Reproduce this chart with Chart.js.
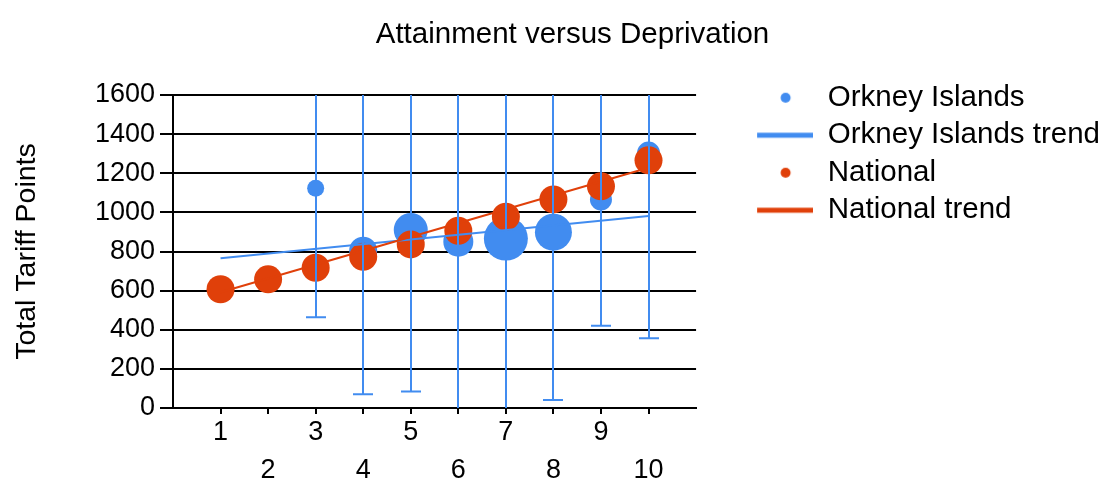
<!DOCTYPE html>
<html>
<head>
<meta charset="utf-8">
<title>Attainment versus Deprivation</title>
<script src="https://cdn.jsdelivr.net/npm/chart.js@4/dist/chart.umd.min.js"></script>
<style>
  html, body { margin: 0; padding: 0; background: #fff; }
  #wrap { width: 1105px; height: 483px; }
</style>
</head>
<body>
<div id="wrap"><canvas id="chart"></canvas></div>
<script>
// Deprivation groups (1 = most deprived, 10 = least deprived)
const groups = [1, 2, 3, 4, 5, 6, 7, 8, 9, 10];
const nationalMean = [607, 658, 717, 773, 836, 906, 978, 1066, 1133, 1266];

const orkneyGroups = [3, 4, 5, 6, 7, 8, 9, 10];
const orkneyMean = [1123, 804, 910, 850, 866, 899, 1066, 1303];
const orkneyLow = [464, 70, 84, -40, -30, 41, 421, 356];
const orkneyHigh = [1782, 1640, 1740, 1740, 1760, 1760, 1711, 2250];
const orkneyBubble = [8.5, 14, 17, 15, 22, 18.5, 11, 11.5];

const trendGroups = [1, 10];
const orkneyTrend = [765, 981];
const nationalTrend = [592, 1228];

const yTicks = [0, 200, 400, 600, 800, 1000, 1200, 1400, 1600];

const BLUE = '#418CF0';
const RED = '#E0400A';
const FONT = "'Liberation Sans', Arial, sans-serif";

// legend markers: a dot for the point series, a bar for the trend lines
function legendMarker(color, kind) {
  const c = document.createElement('canvas');
  c.width = 109; c.height = 12;
  const g = c.getContext('2d');
  g.fillStyle = color;
  if (kind === 'dot') {
    g.beginPath(); g.arc(81.5, 6, 5, 0, Math.PI * 2); g.fill();
  } else {
    g.fillRect(53, 3.5, 56, 5);
  }
  return c;
}
const legendMarkers = [
  legendMarker(BLUE, 'dot'),
  legendMarker(BLUE, 'line'),
  legendMarker(RED, 'dot'),
  legendMarker(RED, 'line')
];

// vertical error bars with caps for the Orkney series
const errorBars = {
  id: 'errorBars',
  afterDatasetsDraw(chart) {
    const {ctx, chartArea, scales: {x, y}} = chart;
    ctx.save();
    ctx.beginPath();
    ctx.rect(chartArea.left, chartArea.top, chartArea.right - chartArea.left, chartArea.bottom - chartArea.top);
    ctx.clip();
    ctx.strokeStyle = BLUE;
    ctx.lineWidth = 2;
    orkneyGroups.forEach((g, i) => {
      const px = Math.round(x.getPixelForValue(g));
      const lo = y.getPixelForValue(orkneyLow[i]);
      const hi = y.getPixelForValue(orkneyHigh[i]);
      ctx.beginPath();
      ctx.moveTo(px, lo); ctx.lineTo(px, hi);
      ctx.moveTo(px - 10, lo); ctx.lineTo(px + 10, lo);
      ctx.moveTo(px - 10, hi); ctx.lineTo(px + 10, hi);
      ctx.stroke();
    });
    ctx.restore();
  }
};

// title centred over plot + legend, legend aligned with the top of the plot
const placeBlocks = {
  id: 'placeBlocks',
  afterLayout(chart) {
    if (chart.titleBlock) chart.titleBlock.left = 35;
    if (chart.legend) chart.legend.top = chart.chartArea.top - 20;
  }
};

new Chart(document.getElementById('chart'), {
  type: 'bubble',
  data: {
    datasets: [
      {
        label: 'Orkney Islands',
        data: orkneyGroups.map((g, i) => ({x: g, y: orkneyMean[i], r: orkneyBubble[i]})),
        backgroundColor: BLUE,
        borderWidth: 0,
        hoverRadius: 0,
        order: 3
      },
      {
        type: 'line',
        label: 'Orkney Islands trend',
        data: trendGroups.map((g, i) => ({x: g, y: orkneyTrend[i]})),
        borderColor: BLUE,
        borderWidth: 2,
        pointRadius: 0,
        fill: false,
        order: 1
      },
      {
        label: 'National',
        data: groups.map((g, i) => ({x: g, y: nationalMean[i], r: 14})),
        backgroundColor: RED,
        borderWidth: 0,
        hoverRadius: 0,
        order: 2
      },
      {
        type: 'line',
        label: 'National trend',
        data: trendGroups.map((g, i) => ({x: g, y: nationalTrend[i]})),
        borderColor: RED,
        borderWidth: 2,
        pointRadius: 0,
        fill: false,
        order: 0
      }
    ]
  },
  options: {
    responsive: true,
    maintainAspectRatio: false,
    animation: false,
    layout: { padding: { right: -5 } },
    plugins: {
      tooltip: { enabled: false },
      title: {
        display: true,
        text: 'Attainment versus Deprivation',
        color: '#000',
        font: { family: FONT, size: 29.5, weight: 'normal' },
        padding: { top: 17, bottom: 42.6 }
      },
      legend: {
        display: true,
        position: 'right',
        align: 'start',
        maxWidth: 440,
        labels: {
          color: '#000',
          font: { family: FONT, size: 29.5 },
          usePointStyle: true,
          pointStyleWidth: 109,
          padding: 8,
          sort: (a, b) => a.datasetIndex - b.datasetIndex,
          generateLabels(chart) {
            const items = Chart.defaults.plugins.legend.labels.generateLabels(chart);
            items.forEach(it => { it.pointStyle = legendMarkers[it.datasetIndex]; });
            return items;
          }
        }
      }
    },
    scales: {
      x: {
        type: 'linear',
        min: 0,
        max: 11,
        afterFit(scale) { scale.height = 75; },
        afterBuildTicks(scale) {
          scale.ticks = [0].concat(groups, [11]).map(v => ({value: v}));
        },
        ticks: {
          autoSkip: false,
          maxRotation: 0,
          padding: 0,
          color: '#000',
          font: { family: FONT, size: 27, lineHeight: '38px' },
          callback(v) {
            if (!groups.includes(v)) return '';
            return v % 2 === 1 ? [String(v), ''] : ['', String(v)];
          }
        },
        grid: {
          drawOnChartArea: false,
          drawTicks: true,
          tickLength: 6,
          lineWidth: 2,
          color: ctx => (ctx.tick && groups.includes(ctx.tick.value)) ? '#000' : 'rgba(0,0,0,0)'
        },
        border: { display: true, color: '#000', width: 2 }
      },
      y: {
        type: 'linear',
        min: yTicks[0],
        max: yTicks[yTicks.length - 1],
        afterFit(scale) { scale.width = 173; },
        afterBuildTicks(scale) {
          scale.ticks = yTicks.map(v => ({value: v}));
        },
        ticks: {
          padding: 5,
          color: '#000',
          font: { family: FONT, size: 27 },
          callback: v => String(v)
        },
        grid: {
          color: '#000',
          lineWidth: 2,
          drawTicks: true,
          tickLength: 13
        },
        border: { display: true, color: '#000', width: 2 },
        title: {
          display: true,
          text: 'Total Tariff Points',
          color: '#000',
          font: { family: FONT, size: 28.5 },
          padding: { top: 10, bottom: 0 }
        }
      }
    }
  },
  plugins: [errorBars, placeBlocks]
});
</script>
</body>
</html>
